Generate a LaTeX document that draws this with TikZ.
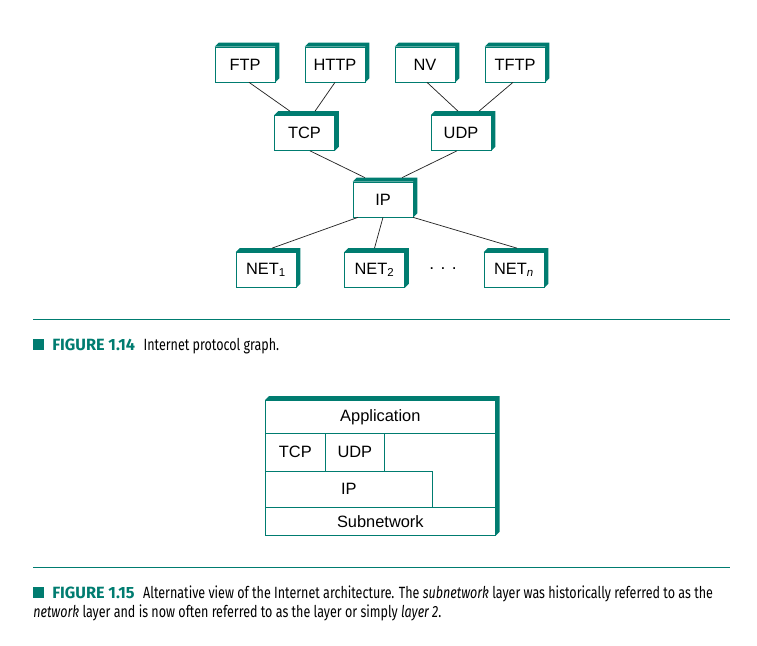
\documentclass[tikz,border=0pt]{standalone}
\usepackage{fontspec}
\setmainfont{Liberation Sans}
\newfontfamily\capfont[FakeStretch=0.77,BoldFeatures={FakeStretch=1.0}]{Fira Sans}
\usepackage{tikz}
\usetikzlibrary{arrows,positioning}
\definecolor{boxteal}{RGB}{0,124,112}
\tikzset{
    %Define style for protocol boxes
    proto/.style={
           rectangle,
           draw=boxteal, line width=0.5pt,
           fill=white,
           minimum width=45pt,
           minimum height=26.25pt,
           inner sep=0pt,
           font=\fontsize{12.3}{14}\selectfont},
    %Define style for the layer cells
    cell/.style={
           rectangle,
           draw=boxteal, line width=0.5pt,
           fill=white,
           anchor=north west,
           inner sep=0pt,
           font=\fontsize{12.3}{14}\selectfont},
    % Define style for the 3d edge of the boxes
    slab/.style={fill=boxteal},
    % Define line style
    link/.style={
           draw=black!85,
           line width=0.55pt},
    % Define caption style
    capt/.style={
           anchor=base west,
           inner sep=0pt,
           font=\capfont\fontsize{12.2}{14}\selectfont}
}
\begin{document}
\begin{tikzpicture}[x=0.75pt, y=-0.75pt]
      \useasboundingbox (0,0) rectangle (757,646);

      % protocol graph
      \node[proto] (ftp)  at (245,64.5) {FTP};
      \node[proto] (http) at (335,64.5) {HTTP};
      \node[proto] (nv)   at (425,64.5) {NV};
      \node[proto] (tftp) at (515,64.5) {TFTP};
      \node[proto] (tcp)  at (304.5,133) {TCP};
      \node[proto] (udp)  at (461,133) {UDP};
      \node[proto] (ip)   at (383,199.5) {IP};
      \node[proto] (neta) at (266,270) {NET\textsubscript{1}};
      \node[proto] (netb) at (374.5,270) {NET\textsubscript{2}};
      \node[proto] (netn) at (514,270) {NET\textsubscript{\textit{n}}};
      \node[font=\fontsize{13}{14}\selectfont] (dots) at (443,271) {\raisebox{0.25em}{. . .}};

      \foreach \n in {ftp,http,nv,tftp,tcp,udp,ip,neta,netb,netn}
        \fill[slab] (\n.north west) -- ++(4,-4) -- ([xshift=3pt,yshift=3pt]\n.north east)
          -- ([xshift=3pt,yshift=3pt]\n.south east) -- (\n.south east) -- (\n.north east) -- cycle;

      \path[link] ([xshift=3pt]ftp.south) -- ([xshift=-10.9pt,yshift=3pt]tcp.north);
      \path[link] (http.south) -- ([xshift=7.9pt,yshift=3pt]tcp.north);
      \path[link] ([xshift=1.5pt]nv.south) -- ([xshift=-2.25pt,yshift=3pt]udp.north);
      \path[link] ([xshift=-1.5pt]tftp.south) -- ([xshift=13.5pt,yshift=3pt]udp.north);
      \path[link] ([xshift=4.1pt]tcp.south) -- ([xshift=-13.5pt,yshift=3pt]ip.north);
      \path[link] ([xshift=-3pt]udp.south) -- ([xshift=14.25pt,yshift=3pt]ip.north);
      \path[link] ([xshift=-18.75pt]ip.south) -- ([xshift=4.5pt,yshift=3pt]neta.north);
      \path[link] (ip.south) -- ([yshift=3pt]netb.north);
      \path[link] ([xshift=22.5pt]ip.south) -- ([xshift=2.25pt,yshift=3pt]netn.north);

      \draw[boxteal, line width=1pt] (33,319.3) -- (730,319.3);
      \node[capt] (cap14) at (33,350)
        {\textcolor{boxteal}{\rule{8.25pt}{8.25pt}}\hspace{6pt}\textcolor{boxteal}{\bfseries FIGURE 1.14}\hspace{6.5pt}Internet protocol graph.};

      % layered view
      \node[cell, minimum width=172.5pt, minimum height=101.25pt] (stack) at (265,400) {};
      \fill[slab] (stack.north west) -- ++(4,-4) -- ([xshift=3pt,yshift=3pt]stack.north east)
        -- ([xshift=3pt,yshift=3pt]stack.south east) -- (stack.south east) -- (stack.north east) -- cycle;
      \node[cell, minimum width=172.5pt, minimum height=24.75pt] (app) at (265,400) {Application};
      \node[cell, minimum width=45pt, minimum height=28.5pt] (tcpl) at (265,433) {TCP};
      \node[cell, minimum width=44.25pt, minimum height=28.5pt] (udpl) at (325,433) {UDP};
      \node[cell, minimum width=125.25pt, minimum height=27pt] (ipl) at (265,471) {IP};
      \node[cell, minimum width=172.5pt, minimum height=21pt] (subl) at (265,507) {Subnetwork};

      \draw[boxteal, line width=1pt] (33,567.3) -- (730,567.3);
      \node[capt] (cap15) at (33,598)
        {\textcolor{boxteal}{\rule{8.25pt}{8.25pt}}\hspace{6pt}\textcolor{boxteal}{\bfseries FIGURE 1.15}\hspace{6.5pt}Alternative view of the Internet architecture. The \textit{subnetwork} layer was historically referred to as the};
      \node[capt] (cap15b) at (33,617)
        {\textit{network} layer and is now often referred to as the layer or simply \textit{layer 2}.};
\end{tikzpicture}
\end{document}
